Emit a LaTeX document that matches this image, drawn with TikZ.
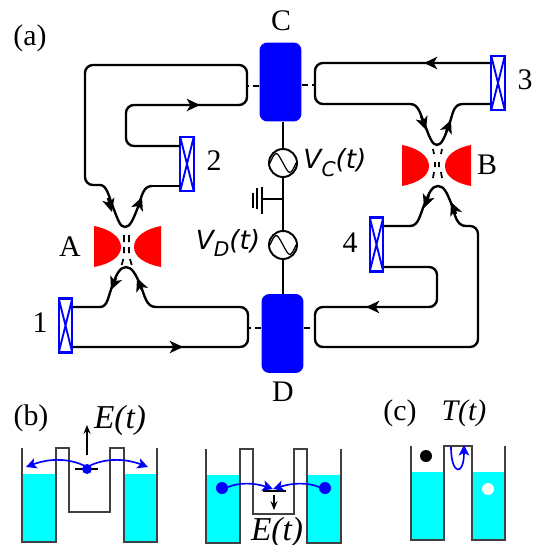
\documentclass[tikz,border=0pt]{standalone}
\usepackage{fontspec}
\setmainfont{Liberation Serif}
\newfontfamily\volts{DejaVu Sans}
\usetikzlibrary{arrows.meta}
\definecolor{liquid}{RGB}{0,255,255}
\tikzset{
  wire/.style={line width=1.35pt,rounded corners=4.5pt},
  neck/.style={line width=1.35pt},
  flow/.style={line width=1.35pt,-{Stealth[length=7.5pt,width=7pt,inset=2pt]}},
  gate/.style={fill=blue,rounded corners=4.5pt,minimum width=0.84cm,inner sep=0},
  contact/.style={draw=blue,line width=1.3pt,fill=white,inner sep=0,minimum width=0.27cm,minimum height=1.08cm,
    path picture={\draw[blue,line width=1.1pt] (path picture bounding box.north west) -- (path picture bounding box.south east)
      (path picture bounding box.north east) -- (path picture bounding box.south west);}},
  source/.style={circle,draw,line width=1.1pt,fill=white,minimum size=0.56cm,inner sep=0},
  lab/.style={font=\fontsize{17}{17}\selectfont,inner sep=0},
  ilab/.style={font=\fontsize{19}{19}\selectfont\itshape,inner sep=0},
  vlab/.style={font=\fontsize{15}{15}\selectfont\volts\itshape,inner sep=0},
  well/.style={line width=0.85pt,draw=black!75},
  swap/.style={blue,line width=0.95pt,-{Stealth[length=6pt,width=6pt,inset=1.5pt]}},
  dip/.style={dash pattern=on 3.6pt off 2.2pt,line width=1.2pt}
}
\newcommand{\subV}[1]{\raisebox{-0.3em}{\fontsize{11.5}{11.5}\selectfont #1}}
\begin{document}
\begin{tikzpicture}[x=0.02cm,y=-0.02cm]
\useasboundingbox (0,0) rectangle (533,545);
% gates and contacts
\node (gateC) [gate,minimum height=1.58cm] at (280.5,82) {};
\node (gateD) [gate,minimum height=1.58cm] at (282.5,333.5) {};
\node (contact1) [contact] at (65.5,325.5) {};
\node (contact2) [contact] at (187,164) {};
\node (contact3) [contact] at (498,83) {};
\node (contact4) [contact] at (376.5,244.5) {};
\node (srcC) [source] at (283,163) {};
\node (srcD) [source] at (283,245) {};
\coordinate (gnd) at (283,199);
\draw [line width=0.9pt] (gateC.south -| srcC) -- (srcC);
\draw [line width=0.9pt] (srcC) -- (srcD);
\draw [line width=0.9pt] (srcD) -- (gateD.north -| srcD);
\foreach \src in {srcC,srcD}
  \draw [line width=0.7pt] (\src) ++(-13,0) .. controls +(6,-14) and +(-6,-11) .. ++(13,0)
    .. controls +(6,11) and +(-6,14) .. ++(13,0);
\draw [line width=0.6pt] (gnd) -- (262,199);
\draw [line width=0.6pt] (262,187)--(262,214) (257,188)--(257,209) (253,193)--(253,208);
% wires at A
\draw [wire] (180,146) -- (126,146) -- (126,105) -- (247,105) -- (247,65) -- (85,65) -- (85,185) -- (100,185);
\draw [neck] (100,185) .. controls (107,185) and (109,197) .. (113,207) .. controls (118,220) and (120,227) .. (125,227)
  .. controls (130,227) and (133,220) .. (138,207) .. controls (142,196) and (143,186) .. (152,186);
\draw [wire] (152,186) -- (180,186);
\draw [neck] (73,307) -- (100,307) .. controls (108,307) and (108,296) .. (113,284) .. controls (116,275) and (120,267) .. (126,267)
  .. controls (132,267) and (136,275) .. (140,284) .. controls (145,296) and (146,307) .. (156,307);
\draw [wire] (156,307) -- (248,307) -- (248,347) -- (73,347);
\draw [flow] (160,105) -- (200,105);
\draw [flow] (160,347) -- (183,347);
\draw [flow] (108,198) -- (112,212);
\draw [flow] (138,207) -- (142,197);
\draw [flow] (116,278) -- (111,290);
\draw [flow] (142,290) -- (137,278);
% wires at B
\draw [wire] (490,63) -- (315,63) -- (315,104) -- (410,104);
\draw [neck] (410,104) .. controls (419,104) and (420,114) .. (425,125)
  .. controls (429,136) and (432,145) .. (437,145) .. controls (442,145) and (445,136) .. (449,125)
  .. controls (453,114) and (453,104) .. (463,104) -- (490,104);
\draw [neck] (384,226) -- (410,226) .. controls (419,226) and (420,214) .. (425,203) .. controls (429,193) and (432,186) .. (438,186)
  .. controls (444,186) and (447,193) .. (451,203) .. controls (455,214) and (456,226) .. (466,226);
\draw [wire] (466,226) -- (478,226) -- (478,347) -- (315,347) -- (315,307) -- (437,307) -- (437,267) -- (384,267);
\draw [flow] (445,63) -- (424,63);
\draw [flow] (395,307) -- (366,307);
\draw [flow] (421,116) -- (426,130);
\draw [flow] (446,132) -- (451,120);
\draw [flow] (429,195) -- (424,208);
\draw [flow] (456,214) -- (451,202);
% stubs
\draw [dip] (gateC.west |- 0,86) -- (247,86);
\draw [dip] (gateC.east |- 0,85) -- (315,85);
\draw [dip] (gateD.west |- 0,328) -- (248,328);
\draw [dip] (gateD.east |- 0,328) -- (315,328);
% red pads
\fill [red] (94,226) .. controls (110,229) and (121,237) .. (121,247) .. controls (121,257) and (110,264) .. (94,267) -- cycle;
\fill [red] (161,226) .. controls (145,229) and (134,237) .. (134,247) .. controls (134,257) and (145,264) .. (161,267) -- cycle;
\fill [red] (402,145) .. controls (418,148) and (429,156) .. (429,166) .. controls (429,176) and (418,183) .. (402,186) -- cycle;
\fill [red] (471,145) .. controls (455,148) and (445,156) .. (445,166) .. controls (445,176) and (455,183) .. (471,186) -- cycle;
% dashes in the constrictions
\draw [line width=1pt] (124,235)--(124,242) (129,235)--(129,242) (124,247)--(124,253) (129,247)--(129,253)
  (121.7,265)--(123.3,259) (131.7,265)--(130,259);
\draw [line width=1pt] (435,162)--(435,167) (439,162)--(439,167)
  (434,154)--(433,149) (441,154)--(442,149) (434,172)--(433,178) (441,172)--(442,178);
% labels of part (a)
\node (labA) [lab] at (70,247) {A};
\node (labB) [lab] at (487,165) {B};
\node (labC) [lab] at (281,21) {C};
\node (labD) [lab] at (283,392) {D};
\node (lab1) [lab] at (40,323) {1};
\node (lab2) [lab] at (214,161) {2};
\node (lab3) [lab] at (525,80) {3};
\node (lab4) [lab] at (350,243) {4};
\node (parta) [lab] at (30,38) {(a)};
\node (labVC) [vlab] at (335,163) {V\subV{C}(t)};
\node (labVD) [vlab] at (228,243) {V\subV{D}(t)};
% part (b), left well
\fill [liquid] (22,474) rectangle (56,542) (124,474) rectangle (157,542);
\draw [well] (22,448) -- (22,542) -- (56,542) -- (56,448) -- (69,448) -- (69,512) -- (110,512) -- (110,448) -- (124,448) -- (124,542) -- (157,542) -- (157,448);
\draw [line width=0.8pt] (75,469) -- (98,469);
\draw [line width=0.7pt,-{Stealth[length=5pt,width=4pt]}] (87,455) -- (87,425);
\fill [blue] (87,469) circle (5);
\draw [swap] (87,467) .. controls (70,458) and (50,458) .. (26,467);
\draw [swap] (87,467) .. controls (104,458) and (124,458) .. (148,467);
\node (partb) [lab] at (31,418) {(b)};
\node (labE) [ilab] at (120,420) {E(t)};
% part (b), right well
\fill [liquid] (206,475) rectangle (240,543) (307,475) rectangle (341,543);
\draw [well] (206,449) -- (206,543) -- (240,543) -- (240,449) -- (253,449) -- (253,514) -- (294,514) -- (294,449) -- (307,449) -- (307,543) -- (341,543) -- (341,449);
\draw [line width=0.8pt] (263,491) -- (286,491);
\draw [line width=0.7pt,-{Stealth[length=5pt,width=4pt]}] (274,495) -- (274,510);
\fill [blue] (222,488) circle (6) (325,488) circle (6);
\draw [swap] (228,487) .. controls (240,482) and (255,483) .. (273,489);
\draw [swap] (319,487) .. controls (307,482) and (292,483) .. (273,489);
\node (labEb) [ilab] at (277,532) {E(t)};
% part (c)
\fill [liquid] (411,472) rectangle (444,540) (472,472) rectangle (505,540);
\draw [well] (411,446) -- (411,540) -- (444,540) -- (444,446) -- (472,446) -- (472,540) -- (505,540) -- (505,446);
\fill [black] (426,456) circle (6);
\fill [white] (488,489) circle (6);
\draw [swap] (451,447) .. controls (451,475) and (464,477) .. (464,445);
\node (partc) [lab] at (400,413) {(c)};
\node (labT) [lab,font=\fontsize{17}{17}\selectfont\itshape] at (464,413) {T(t)};
\end{tikzpicture}
\end{document}
